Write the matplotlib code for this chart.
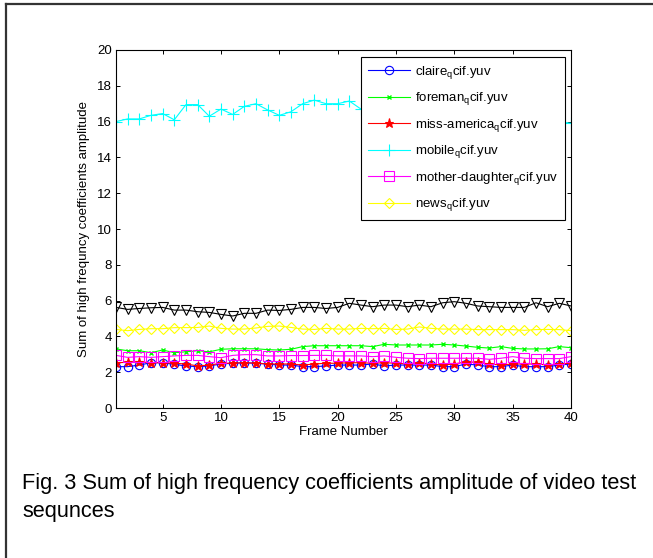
import numpy as np
import matplotlib
matplotlib.use('Agg')
import matplotlib.pyplot as plt
from matplotlib.lines import Line2D

plt.rcParams['font.family'] = ['Liberation Sans', 'DejaVu Sans']
plt.rcParams['mathtext.default'] = 'regular'

frames = np.arange(1, 41)

claire = [2.31, 2.31, 2.40, 2.53, 2.53, 2.44, 2.35, 2.31, 2.35, 2.46,
          2.50, 2.53, 2.50, 2.46, 2.40, 2.40, 2.31, 2.31, 2.35, 2.40,
          2.40, 2.40, 2.46, 2.35, 2.40, 2.40, 2.40, 2.40, 2.31, 2.31,
          2.46, 2.40, 2.31, 2.31, 2.40, 2.31, 2.31, 2.31, 2.40, 2.46]
foreman = [3.30, 3.20, 3.20, 3.09, 3.24, 3.09, 3.14, 3.20, 3.14, 3.28,
           3.31, 3.31, 3.31, 3.26, 3.24, 3.28, 3.43, 3.48, 3.48, 3.48,
           3.48, 3.48, 3.43, 3.56, 3.52, 3.52, 3.52, 3.52, 3.56, 3.52,
           3.46, 3.39, 3.35, 3.43, 3.33, 3.30, 3.30, 3.31, 3.43, 3.37]
miss_america = [2.53, 2.55, 2.58, 2.53, 2.53, 2.50, 2.46, 2.35, 2.40, 2.50,
                2.50, 2.53, 2.50, 2.46, 2.46, 2.46, 2.40, 2.46, 2.50, 2.50,
                2.53, 2.53, 2.50, 2.53, 2.50, 2.46, 2.53, 2.46, 2.40, 2.46,
                2.58, 2.55, 2.46, 2.40, 2.46, 2.46, 2.46, 2.40, 2.46, 2.50]
mobile = [16.00, 16.15, 16.15, 16.35, 16.45, 16.10, 16.95, 16.95, 16.30, 16.70,
          16.40, 16.85, 17.00, 16.65, 16.35, 16.55, 17.00, 17.20, 17.00, 17.00,
          17.15, 16.70, 16.80, 16.90, 17.00, 16.80, 16.70, 16.90, 17.10, 16.90,
          16.80, 16.60, 16.70, 16.90, 16.80, 16.60, 16.50, 16.30, 16.00, 15.90]
mother_daughter = [2.94, 2.83, 2.87, 2.83, 2.87, 2.91, 2.94, 2.94, 2.87, 2.81,
                   2.94, 2.98, 2.98, 2.91, 2.91, 2.93, 2.93, 2.94, 2.94, 2.91,
                   2.91, 2.91, 2.87, 2.91, 2.83, 2.78, 2.76, 2.78, 2.78, 2.78,
                   2.78, 2.78, 2.72, 2.78, 2.87, 2.78, 2.76, 2.76, 2.76, 2.87]
news = [4.39, 4.32, 4.39, 4.43, 4.43, 4.49, 4.49, 4.50, 4.58, 4.45,
        4.41, 4.41, 4.47, 4.56, 4.58, 4.50, 4.41, 4.39, 4.45, 4.41,
        4.41, 4.45, 4.43, 4.45, 4.39, 4.41, 4.53, 4.45, 4.41, 4.41,
        4.41, 4.38, 4.38, 4.38, 4.38, 4.34, 4.38, 4.39, 4.38, 4.32]
unlabeled = [5.62, 5.51, 5.56, 5.60, 5.62, 5.47, 5.47, 5.38, 5.34, 5.23,
             5.14, 5.29, 5.29, 5.47, 5.45, 5.51, 5.62, 5.62, 5.56, 5.62,
             5.85, 5.75, 5.66, 5.75, 5.75, 5.66, 5.75, 5.66, 5.88, 5.94,
             5.85, 5.70, 5.66, 5.62, 5.62, 5.62, 5.88, 5.66, 5.85, 5.70]

labels = ['claire$_{q}$cif.yuv', 'foreman$_{q}$cif.yuv', 'miss-america$_{q}$cif.yuv',
          'mobile$_{q}$cif.yuv', 'mother-daughter$_{q}$cif.yuv', 'news$_{q}$cif.yuv']

fs = 9.5

fig = plt.figure(figsize=(6.53, 5.58), dpi=100)
ax = fig.add_axes([0.1776, 0.2688, 0.6968, 0.6416])

lw = 0.8
ax.plot(frames, claire, color='#0000ff', marker='o', ms=6, mfc='none', lw=lw, mew=0.8, label=labels[0])
ax.plot(frames, foreman, color='#00ff00', marker='x', ms=3.5, lw=lw, mew=1.0, label=labels[1])
ax.plot(frames, miss_america, color='#ff0000', marker='*', ms=6.5, lw=lw, mew=0.8, label=labels[2])
ax.plot(frames, mobile, color='#00ffff', marker='+', ms=8, lw=lw, mew=0.8, label=labels[3])
ax.plot(frames, mother_daughter, color='#ff00ff', marker='s', ms=6.5, mfc='none', lw=lw, mew=0.8, label=labels[4])
ax.plot(frames, news, color='#ffff00', marker='D', ms=5.5, mfc='none', lw=lw, mew=0.8, label=labels[5])
ax.plot(frames, unlabeled, color='black', marker='v', ms=7.5, mfc='none', lw=lw, mew=0.8)

ax.set_xlim(1, 40)
ax.set_ylim(0, 20)
ax.set_xticks(np.arange(5, 41, 5))
ax.set_yticks(np.arange(0, 21, 2))
ax.tick_params(direction='in', top=True, right=True, labelsize=fs, length=3, width=0.7, pad=3)
for sp in ax.spines.values():
    sp.set_linewidth(0.8)

ax.set_xlabel('Frame Number', fontsize=fs, labelpad=1)
ax.set_ylabel('Sum of high frequncy coefficients amplitude', fontsize=fs, labelpad=5)

leg = ax.legend(loc='upper right', bbox_to_anchor=(0.987, 0.98), fontsize=fs,
                fancybox=False, framealpha=1, edgecolor='black', handlelength=3.2,
                labelspacing=0.72, borderpad=0.5, handletextpad=0.4, borderaxespad=0)
leg.get_frame().set_linewidth(0.8)

fig.text(0.034, 0.134, 'Fig. 3 Sum of high frequency coefficients amplitude of video test',
         fontsize=15.7, va='center', ha='left')
fig.text(0.034, 0.084, 'sequnces', fontsize=15.7, va='center', ha='left')

# outer frame of the page (left and top edges)
fig.add_artist(Line2D([0.0095, 0.0095], [0, 0.993], transform=fig.transFigure, color='#333333', lw=1.6))
fig.add_artist(Line2D([0.0095, 1.0], [0.993, 0.993], transform=fig.transFigure, color='#333333', lw=1.6))

fig.savefig('out.png', dpi=100)
